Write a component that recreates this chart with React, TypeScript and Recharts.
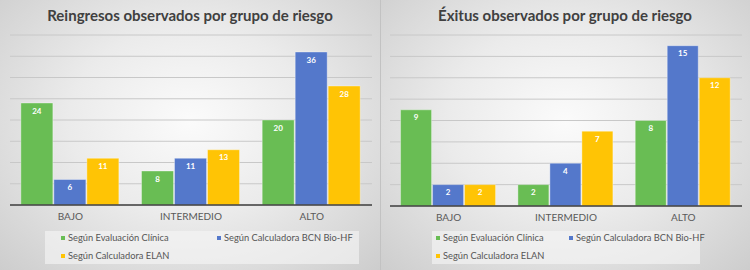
import React from 'react';
import { BarChart, Bar, XAxis, YAxis, CartesianGrid, LabelList, Legend } from 'recharts';

const categories = ['BAJO', 'INTERMEDIO', 'ALTO'];
const seriesNames = ['Según Evaluación Clínica', 'Según Calculadora BCN Bio-HF', 'Según Calculadora ELAN'];
const reingresosClinica = [24, 8, 20];
const reingresosBCN = [6, 11, 36];
const reingresosELAN = [11, 13, 28];
const exitusClinica = [9, 2, 8];
const exitusBCN = [2, 4, 15];
const exitusELAN = [2, 7, 12];
const reingresosTicks = [0, 5, 10, 15, 20, 25, 30, 35, 40];
const exitusTicks = [0, 2, 4, 6, 8, 10, 12, 14, 16];

const seriesKeys = ['s0', 's1', 's2'];
const colors = ['#69bd54', '#5478cb', '#ffc405'];
const FONT = 'Lato, "Open Sans", sans-serif';

const build = (a: number[], b: number[], c: number[]) =>
  categories.map((cat, i) => ({ cat, s0: a[i], s1: b[i], s2: c[i] }));

const reingresosData = build(reingresosClinica, reingresosBCN, reingresosELAN);
const exitusData = build(exitusClinica, exitusBCN, exitusELAN);

type LegendPos = { boxLeft: number; boxWidth: number; items: { x: number; y: number }[] };

const makeLegend = (pos: LegendPos) => (props: any) => {
  const payload = props.payload || [];
  return (
    <div style={{ position: 'relative', width: pos.boxWidth, height: 33, background: 'rgba(246,246,246,0.6)' }}>
      {payload.map((p: any) => {
        const idx = Math.max(0, seriesKeys.indexOf(String(p.dataKey)));
        const it = pos.items[idx];
        return (
          <div
            key={String(p.dataKey)}
            style={{
              position: 'absolute',
              left: it.x,
              top: it.y - 7,
              height: 14,
              lineHeight: '14px',
              whiteSpace: 'nowrap',
              fontFamily: FONT,
              fontSize: 9.3,
              color: '#555555',
              display: 'flex',
              alignItems: 'center',
            }}
          >
            <span style={{ display: 'inline-block', width: 4, height: 4, background: colors[idx], marginRight: 3 }} />
            <span>{p.value}</span>
          </div>
        );
      })}
    </div>
  );
};

type PanelProps = {
  title: string;
  data: any[];
  width: number;
  ticks: number[];
  marginRight: number;
  top: number;
  bottomLine: number;
  legend: LegendPos;
  border?: boolean;
};

const Panel = ({ title, data, width, ticks, marginRight, top, bottomLine, legend, border }: PanelProps) => {
  const height = 270;
  const xAxisH = 30;
  return (
    <div
      style={{
        position: 'relative',
        width,
        height,
        background: 'radial-gradient(ellipse farthest-corner at 50% 45%, #fbfbfb 0%, #ebebeb 45%, #cdcdcd 100%)',
        boxShadow: border ? 'inset 1px 0 0 #c2c2c2' : undefined,
      }}
    >
      <div
        style={{
          position: 'absolute',
          left: 0,
          top: 5,
          width,
          textAlign: 'center',
          fontFamily: FONT,
          fontWeight: 700,
          fontSize: 15,
          lineHeight: '20px',
          color: '#404040',
          zIndex: 2,
        }}
      >
        {title}
      </div>
      <BarChart
        width={width}
        height={height}
        data={data}
        margin={{ top, right: marginRight, left: 10, bottom: height - bottomLine - xAxisH }}
        barCategoryGap="9%"
        barGap={1}
      >
        <CartesianGrid horizontal vertical={false} stroke="#c8c8c8" strokeWidth={1} />
        <YAxis hide domain={[ticks[0], ticks[ticks.length - 1]]} ticks={ticks} interval={0} width={0} />
        <XAxis
          dataKey="cat"
          height={xAxisH}
          tickLine={false}
          axisLine={{ stroke: '#3f3f3f', strokeWidth: 1.5 }}
          tick={{ fill: '#595959', fontSize: 10, fontFamily: FONT }}
          tickMargin={2}
        />
        <Legend
          layout="horizontal"
          verticalAlign="middle"
          align="center"
          itemSorter={null as any}
          content={makeLegend(legend)}
          wrapperStyle={{ left: legend.boxLeft, top: 231, width: legend.boxWidth, height: 33 }}
        />
        {seriesKeys.map((k, i) => (
          <Bar
            key={k}
            dataKey={k}
            name={seriesNames[i]}
            fill={colors[i]}
            stroke="rgba(255,255,255,0.35)"
            strokeWidth={1}
            isAnimationActive={false}
          >
            <LabelList
              dataKey={k}
              position="insideTop"
              offset={5}
              fill="#ffffff"
              fontSize={8}
              fontWeight={700}
              fontFamily={FONT}
            />
          </Bar>
        ))}
      </BarChart>
    </div>
  );
};

export default function App() {
  return (
    <div style={{ position: 'absolute', left: 0, top: 0, width: 750, height: 270, display: 'flex' }}>
      <Panel
        title="Reingresos observados por grupo de riesgo"
        data={reingresosData}
        width={380}
        ticks={reingresosTicks}
        marginRight={8}
        top={35}
        bottomLine={205}
        legend={{ boxLeft: 45, boxWidth: 314, items: [{ x: 16, y: 7 }, { x: 172, y: 7 }, { x: 16, y: 24.5 }] }}
      />
      <Panel
        title="Éxitus observados por grupo de riesgo"
        data={exitusData}
        width={370}
        ticks={exitusTicks}
        marginRight={8}
        top={35}
        bottomLine={206}
        border
        legend={{ boxLeft: 52, boxWidth: 268, items: [{ x: 4, y: 7 }, { x: 137, y: 7 }, { x: 4, y: 24.5 }] }}
      />
    </div>
  );
}
